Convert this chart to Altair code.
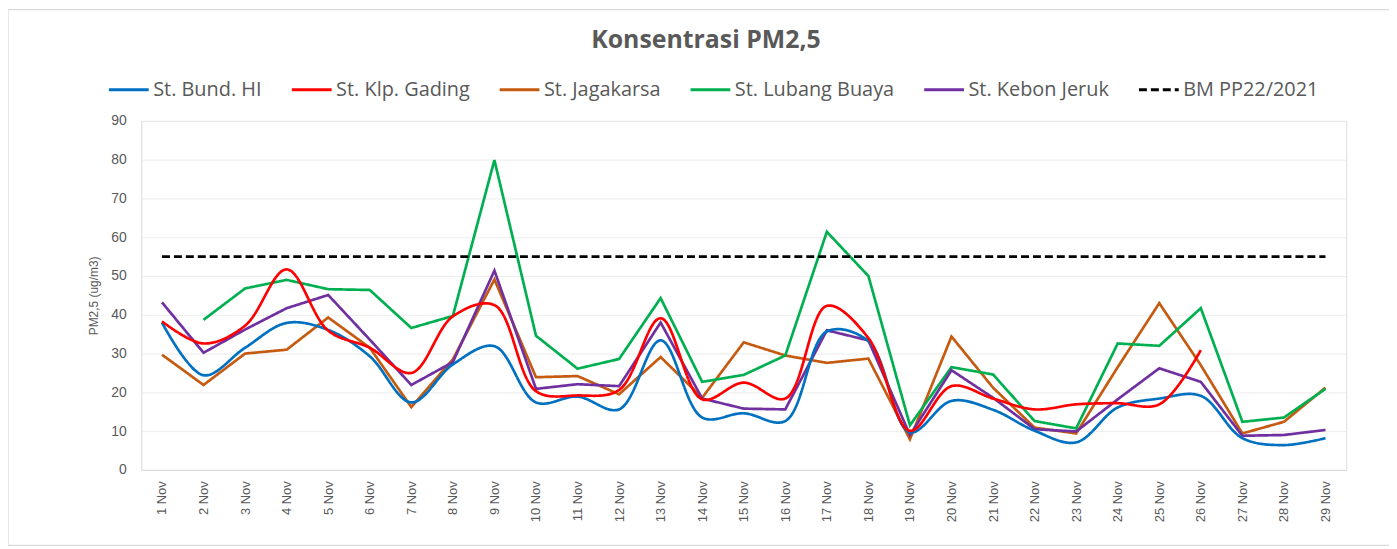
import altair as alt
import pandas as pd

days = [f"{i} Nov" for i in range(1, 30)]

series_names = ["St. Bund. HI", "St. Klp. Gading", "St. Jagakarsa",
                "St. Lubang Buaya", "St. Kebon Jeruk", "BM PP22/2021"]
series_colors = ["#0070C0", "#FF0000", "#C55A11", "#00B050", "#7030A0", "#000000"]
series_dashes = [[1, 0], [1, 0], [1, 0], [1, 0], [1, 0], [8, 4]]

bund_hi = [38.0, 24.4, 31.5, 37.9, 36.1, 29.3, 17.4, 27.2, 31.9, 17.4, 18.9, 15.6, 33.4, 13.5, 14.6,
           12.6, 35.7, 33.2, 9.7, 17.8, 15.5, 10.1, 7.1, 16.1, 18.4, 19.1, 8.2, 6.4, 8.2]
klp_gading = [38.3, 32.6, 37.2, 51.7, 35.9, 31.5, 25.0, 39.6, 42.5, 20.3, 19.2, 20.6, 39.1, 18.2, 22.5,
              18.4, 42.3, 34.0, 10.1, 21.6, 18.4, 15.6, 16.9, 17.2, 16.9, 30.9, None, None, None]
jagakarsa = [29.7, 21.9, 30.0, 31.0, 39.3, 31.5, 16.2, 28.5, 49.1, 23.9, 24.2, 19.5, 29.1, 18.6, 32.9,
             29.5, 27.6, 28.7, 7.9, 34.4, 21.2, 10.9, 9.4, 26.5, 43.0, 27.0, 9.4, 12.4, 21.2]
lubang_buaya = [None, 38.7, 46.8, 49.0, 46.6, 46.4, 36.6, 39.7, 79.9, 34.6, 26.1, 28.6, 44.3, 22.7, 24.5,
                29.5, 61.4, 50.0, 11.5, 26.5, 24.6, 12.6, 10.7, 32.6, 32.0, 41.7, 12.4, 13.5, 20.9]
kebon_jeruk = [43.2, 30.2, 36.2, 41.7, 45.1, 33.6, 21.9, 27.8, 51.4, 20.9, 22.1, 21.6, 38.0, 18.4, 15.8,
               15.6, 36.0, 33.4, 9.0, 25.7, 18.6, 10.5, 9.9, 18.2, 26.2, 22.7, 8.8, 9.0, 10.3]
baku_mutu = [55, 55, 55, 55, 55, 55, 55, 55, 55, 55, 55, 55, 55, 55, 55,
             55, 55, 55, 55, 55, 55, 55, 55, 55, 55, 55, 55, 55, 55]

y_ticks = [0, 10, 20, 30, 40, 50, 60, 70, 80, 90]

all_values = [bund_hi, klp_gading, jagakarsa, lubang_buaya, kebon_jeruk, baku_mutu]
rows = []
for name, vals in zip(series_names, all_values):
    for d, v in zip(days, vals):
        if v is not None:
            rows.append({"day": d, "series": name, "value": v})
df = pd.DataFrame(rows)

GREY = "#595959"
legend = alt.Legend(
    title=None, orient="none", legendX=-34, legendY=-53, direction="horizontal", columns=6,
    symbolType="stroke", symbolSize=1600, symbolStrokeWidth=3,
    labelFont="Open Sans", labelFontSize=20, labelColor=GREY, labelOffset=3,
    columnPadding=23, labelLimit=400,
)

base = alt.Chart(df).encode(
    x=alt.X("day:O", sort=days, scale=alt.Scale(type="point", padding=0.5),
            axis=alt.Axis(title=None, labelAngle=270, labelFont="Liberation Sans", labelFontSize=13,
                          labelColor=GREY, labelPadding=11, ticks=False, domainColor="#d9d9d9",
                          grid=False)),
    y=alt.Y("value:Q", scale=alt.Scale(domain=[0, 90], nice=False),
            axis=alt.Axis(values=y_ticks, title="PM2,5 (ug/m3)", titleFont="Liberation Sans",
                          titleFontSize=12, titleFontWeight="normal", titleColor=GREY, titlePadding=10,
                          labelFont="Liberation Sans", labelFontSize=14, labelColor=GREY,
                          labelPadding=15, ticks=False, domainColor="#e6e6e6",
                          gridColor="#ececec")),
    color=alt.Color("series:N", scale=alt.Scale(domain=series_names, range=series_colors), legend=legend),
    strokeDash=alt.StrokeDash("series:N", scale=alt.Scale(domain=series_names, range=series_dashes),
                              legend=legend),
)

smooth = base.transform_filter(
    alt.FieldOneOfPredicate(field="series", oneOf=series_names[:2])
).mark_line(interpolate="catmull-rom", strokeWidth=2.7)

straight = base.transform_filter(
    alt.FieldOneOfPredicate(field="series", oneOf=series_names[2:])
).mark_line(strokeWidth=2.7)

border = alt.Chart(pd.DataFrame({"k": [0]})).mark_rect(
    fill=None, stroke="#d9d9d9", strokeWidth=1.2
).encode(x=alt.value(-134), x2=alt.value(1300), y=alt.value(-112), y2=alt.value(427))

chart = alt.layer(border, straight, smooth).properties(
    width=1212, height=351,
    autosize=alt.AutoSizeParams(type="none"),
    padding={"left": 134, "top": 112, "right": 43, "bottom": 78},
    title=alt.TitleParams("Konsentrasi PM2,5", font="Open Sans", fontSize=25, fontWeight="bold",
                          color=GREY, anchor="middle", frame="group", baseline="alphabetic",
                          offset=-64, dx=-38),
).configure_view(stroke=None).configure(background="white")

chart.save("out.html", embed_options={"renderer": "svg", "actions": False})
